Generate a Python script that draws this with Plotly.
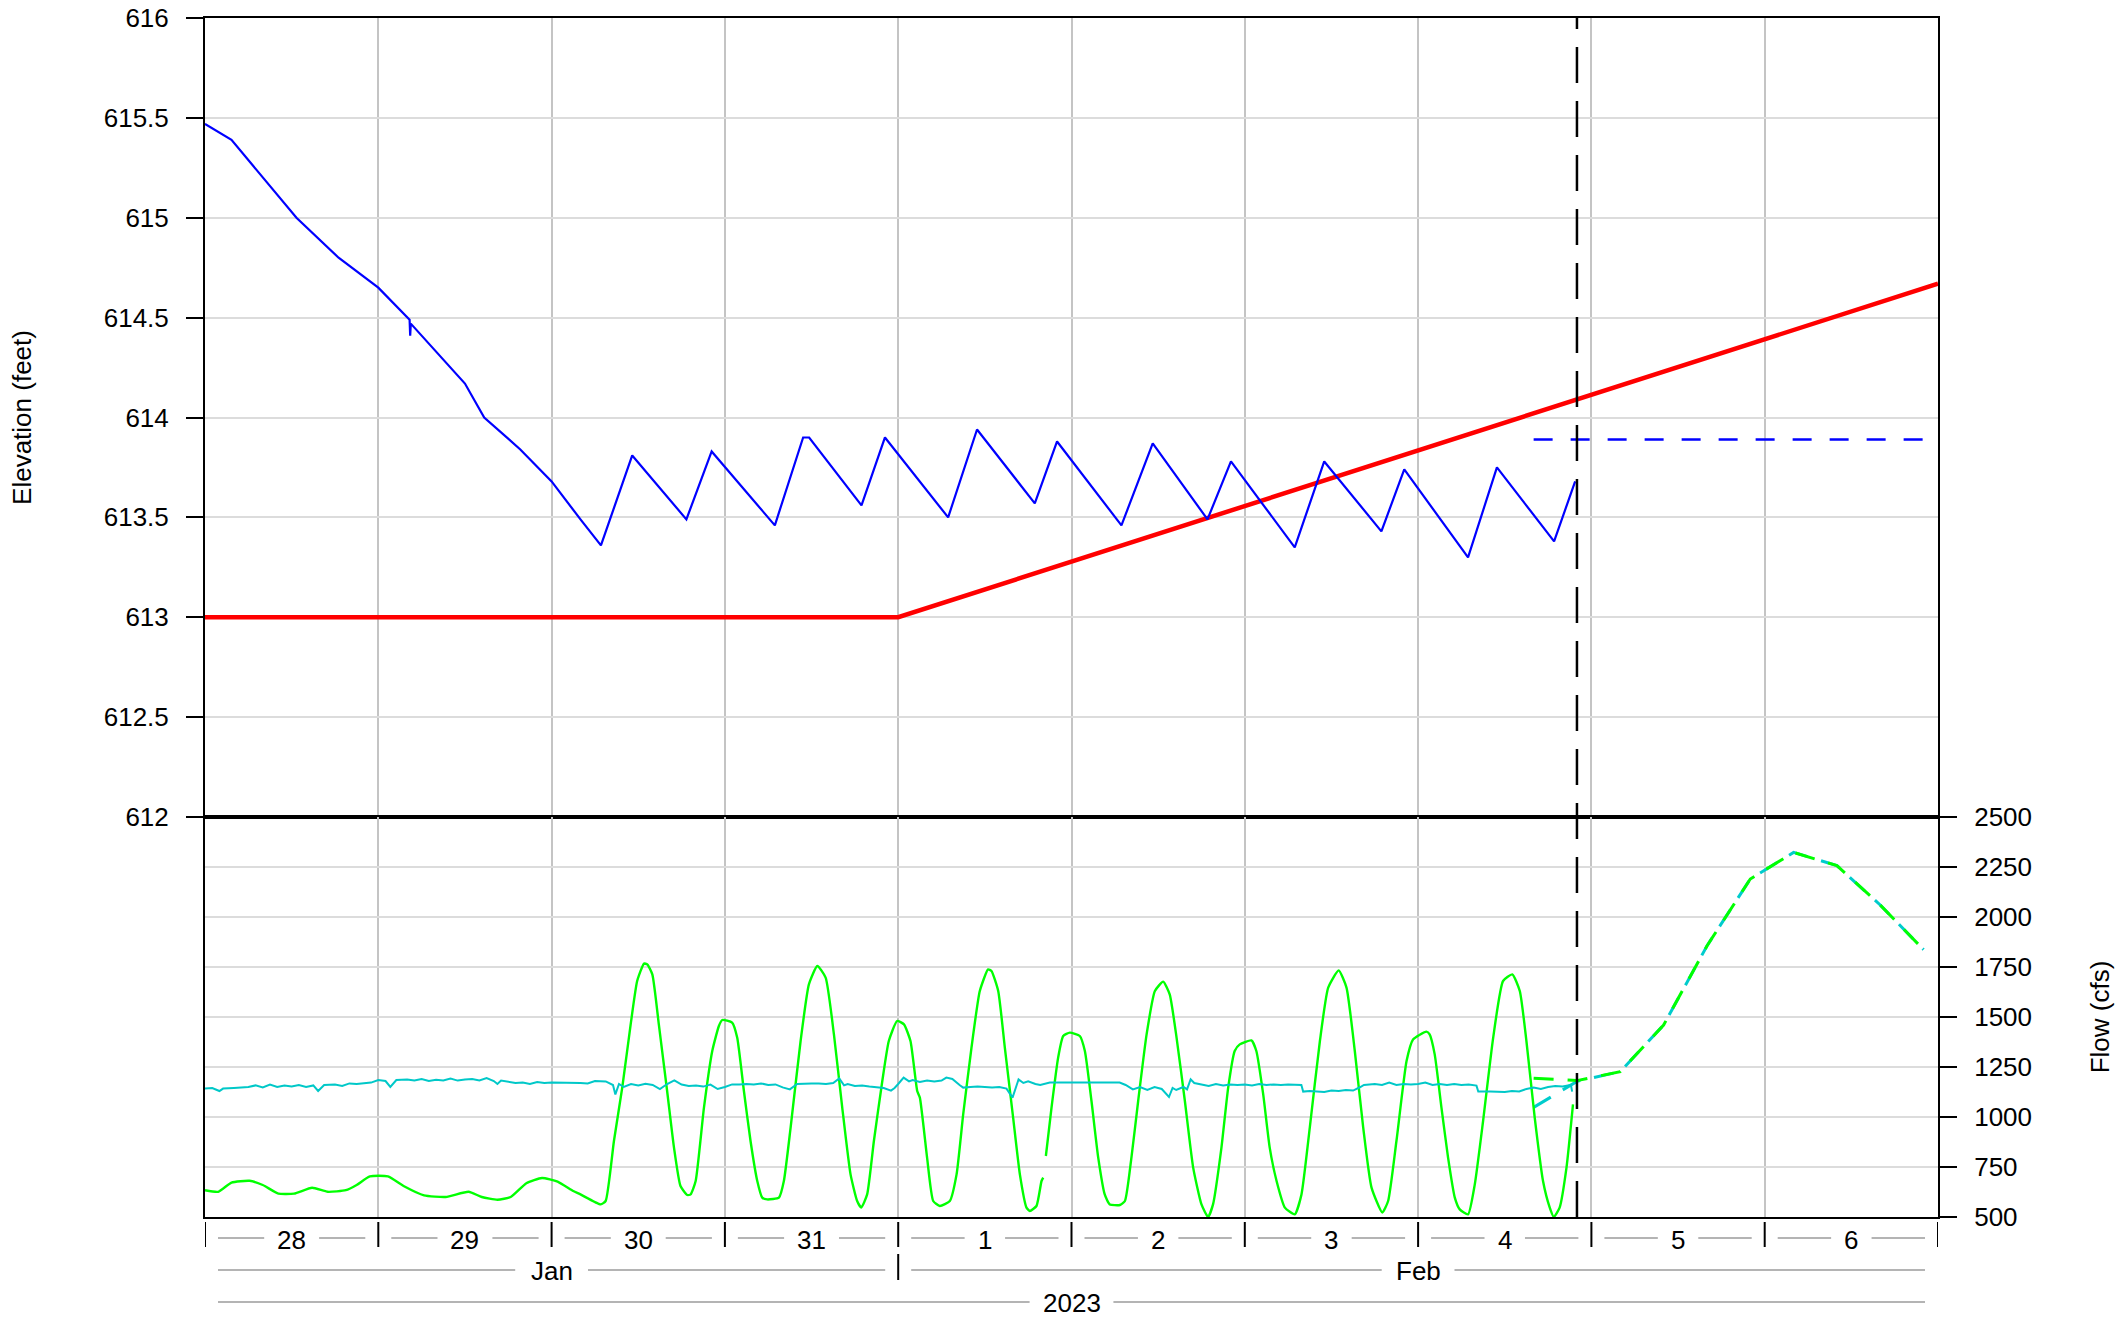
import plotly.graph_objects as go
from plotly.subplots import make_subplots

# ---------------- data ----------------
elev_time = ["2023-01-28 00:00", "2023-01-28 03:40", "2023-01-28 12:40", "2023-01-28 18:30",
             "2023-01-29 00:00", "2023-01-29 04:20", "2023-01-29 04:25", "2023-01-29 04:30",
             "2023-01-29 12:00", "2023-01-29 14:40", "2023-01-29 19:40", "2023-01-30 00:00",
             "2023-01-30 04:00", "2023-01-30 06:50", "2023-01-30 11:10", "2023-01-30 18:40",
             "2023-01-30 22:10", "2023-01-31 06:55", "2023-01-31 10:50", "2023-01-31 11:40",
             "2023-01-31 18:55", "2023-01-31 22:10", "2023-02-01 06:55", "2023-02-01 10:55",
             "2023-02-01 18:55", "2023-02-01 22:00", "2023-02-02 06:55", "2023-02-02 11:15",
             "2023-02-02 18:50", "2023-02-02 22:05", "2023-02-03 06:55", "2023-02-03 11:00",
             "2023-02-03 18:55", "2023-02-03 22:05", "2023-02-04 06:55", "2023-02-04 10:55",
             "2023-02-04 18:50", "2023-02-04 21:45"]
elev_ft = [615.47, 615.39, 615.00, 614.80,
           614.65, 614.49, 614.41, 614.47,
           614.17, 614.00, 613.84, 613.68,
           613.49, 613.36, 613.81, 613.49,
           613.83, 613.46, 613.90, 613.90,
           613.56, 613.90, 613.50, 613.94,
           613.57, 613.88, 613.46, 613.87,
           613.49, 613.78, 613.35, 613.78,
           613.43, 613.74, 613.30, 613.75,
           613.38, 613.68]

rule_time = ["2023-01-28 00:00", "2023-02-01 00:00", "2023-02-07 00:00"]
rule_ft = [613.0, 613.0, 614.67]

elev_fc_time = ["2023-02-04 16:00", "2023-02-06 22:00"]
elev_fc_ft = [613.89, 613.89]

out_time = [
    "2023-01-28 00:00", "2023-01-28 01:50", "2023-01-28 03:40", "2023-01-28 06:10",
    "2023-01-28 08:00", "2023-01-28 10:10", "2023-01-28 12:20", "2023-01-28 14:50",
    "2023-01-28 17:00", "2023-01-28 19:30", "2023-01-28 21:00", "2023-01-28 22:50",
    "2023-01-29 01:20", "2023-01-29 03:30", "2023-01-29 06:20", "2023-01-29 09:20",
    "2023-01-29 12:30", "2023-01-29 14:20", "2023-01-29 16:30", "2023-01-29 18:20",
    "2023-01-29 20:30", "2023-01-29 22:40", "2023-01-30 00:50", "2023-01-30 03:00",
    "2023-01-30 04:00", "2023-01-30 06:48", "2023-01-30 07:29", "2023-01-30 08:38",
    "2023-01-30 09:47", "2023-01-30 10:57", "2023-01-30 11:51", "2023-01-30 12:48",
    "2023-01-30 13:15", "2023-01-30 13:57", "2023-01-30 14:51", "2023-01-30 16:00",
    "2023-01-30 16:57", "2023-01-30 17:51", "2023-01-30 18:48", "2023-01-30 19:15",
    "2023-01-30 19:57", "2023-01-30 21:06", "2023-01-30 22:15", "2023-01-30 23:10",
    "2023-01-30 23:38", "2023-01-31 01:00", "2023-01-31 01:42", "2023-01-31 02:38",
    "2023-01-31 03:33", "2023-01-31 04:29", "2023-01-31 05:10", "2023-01-31 05:51",
    "2023-01-31 07:29", "2023-01-31 08:10", "2023-01-31 09:06", "2023-01-31 10:29",
    "2023-01-31 11:38", "2023-01-31 12:48", "2023-01-31 13:57", "2023-01-31 15:06",
    "2023-01-31 16:15", "2023-01-31 17:24", "2023-01-31 18:19", "2023-01-31 18:53",
    "2023-01-31 19:42", "2023-01-31 20:38", "2023-01-31 21:48", "2023-01-31 22:42",
    "2023-01-31 23:51", "2023-02-01 00:48", "2023-02-01 01:42", "2023-02-01 02:38",
    "2023-02-01 03:00", "2023-02-01 04:00", "2023-02-01 04:51", "2023-02-01 05:46",
    "2023-02-01 07:09", "2023-02-01 08:05", "2023-02-01 09:00", "2023-02-01 10:09",
    "2023-02-01 11:18", "2023-02-01 12:27", "2023-02-01 12:55", "2023-02-01 13:51",
    "2023-02-01 14:46", "2023-02-01 15:55", "2023-02-01 16:51", "2023-02-01 17:46",
    "2023-02-01 18:14", "2023-02-01 19:09", "2023-02-01 19:51", "2023-02-01 20:05",
    "2023-02-01 20:15",
    "2023-02-01 20:27", "2023-02-01 21:14", "2023-02-01 22:09", "2023-02-01 22:51",
    "2023-02-01 23:46", "2023-02-02 01:09", "2023-02-02 01:51", "2023-02-02 02:46",
    "2023-02-02 03:42", "2023-02-02 04:36", "2023-02-02 05:18", "2023-02-02 06:42",
    "2023-02-02 07:24", "2023-02-02 08:18", "2023-02-02 09:14", "2023-02-02 10:24",
    "2023-02-02 11:33", "2023-02-02 12:42", "2023-02-02 13:36", "2023-02-02 14:33",
    "2023-02-02 15:42", "2023-02-02 16:51", "2023-02-02 18:00", "2023-02-02 18:55",
    "2023-02-02 19:36", "2023-02-02 20:46", "2023-02-02 21:42", "2023-02-02 22:36",
    "2023-02-02 23:18", "2023-02-03 00:55", "2023-02-03 01:36", "2023-02-03 02:33",
    "2023-02-03 03:27", "2023-02-03 04:24", "2023-02-03 05:33", "2023-02-03 06:55",
    "2023-02-03 07:51", "2023-02-03 09:00", "2023-02-03 10:24", "2023-02-03 11:33",
    "2023-02-03 13:00", "2023-02-03 14:05", "2023-02-03 15:14", "2023-02-03 16:24",
    "2023-02-03 17:33", "2023-02-03 19:03", "2023-02-03 19:51", "2023-02-03 21:00",
    "2023-02-03 22:24", "2023-02-03 23:18", "2023-02-04 01:09", "2023-02-04 01:36",
    "2023-02-04 02:18", "2023-02-04 03:14", "2023-02-04 04:09", "2023-02-04 05:05",
    "2023-02-04 05:46", "2023-02-04 06:55", "2023-02-04 07:51", "2023-02-04 09:00",
    "2023-02-04 10:24", "2023-02-04 11:46", "2023-02-04 13:03", "2023-02-04 14:05",
    "2023-02-04 15:00", "2023-02-04 16:09", "2023-02-04 17:18", "2023-02-04 18:14",
    "2023-02-04 18:48", "2023-02-04 19:36", "2023-02-04 20:33", "2023-02-04 21:27"]
out_cfs = [
    634, 626, 672, 681,
    660, 617, 617, 646,
    626, 634, 660, 703,
    703, 655, 608, 600,
    626, 600, 586, 600,
    669, 695, 677, 630,
    613, 563, 580, 880,
    1147, 1463, 1680, 1767,
    1763, 1713, 1463, 1130,
    847, 655, 610, 613,
    680, 1047, 1330, 1455,
    1485, 1472, 1397, 1130,
    880, 680, 597, 588,
    597, 680, 947, 1380,
    1663, 1755, 1697, 1413,
    1047, 713, 580, 547,
    613, 880, 1180, 1380,
    1480, 1463, 1380, 1130,
    1097, 797, 580, 555,
    580, 713, 1013, 1347,
    1630, 1738, 1730, 1630,
    1347, 997, 713, 547,
    530, 555, 680, 697,
    None,
    805, 1047, 1297, 1405,
    1422, 1405, 1330, 1080,
    797, 613, 563, 560,
    580, 797, 1080, 1413,
    1630, 1677, 1613, 1397,
    1080, 747, 563, 500,
    563, 847, 1147, 1330,
    1363, 1383, 1330, 1113,
    847, 680, 547, 513,
    613, 947, 1380, 1647,
    1733, 1647, 1330, 947,
    647, 522, 580, 880,
    1280, 1388, 1427, 1413,
    1313, 1047, 797, 597,
    538, 513, 663, 980,
    1397, 1680, 1713, 1630,
    1380, 997, 680, 547,
    500, 547, 747, 1063]

in_time = [
    "2023-01-28 00:00", "2023-01-28 01:00", "2023-01-28 02:00", "2023-01-28 02:30",
    "2023-01-28 04:00", "2023-01-28 06:00", "2023-01-28 07:00", "2023-01-28 08:00",
    "2023-01-28 09:00", "2023-01-28 10:00", "2023-01-28 11:00", "2023-01-28 12:00",
    "2023-01-28 13:00", "2023-01-28 14:00", "2023-01-28 15:00", "2023-01-28 15:40",
    "2023-01-28 16:30", "2023-01-28 18:00", "2023-01-28 19:00", "2023-01-28 20:00",
    "2023-01-28 21:00", "2023-01-28 22:00", "2023-01-28 23:00",
    "2023-01-29 00:00", "2023-01-29 01:00", "2023-01-29 01:40", "2023-01-29 02:30",
    "2023-01-29 04:00", "2023-01-29 05:00", "2023-01-29 06:00", "2023-01-29 07:00",
    "2023-01-29 08:00", "2023-01-29 09:00", "2023-01-29 10:00", "2023-01-29 11:00",
    "2023-01-29 12:00", "2023-01-29 13:00", "2023-01-29 14:00", "2023-01-29 15:00",
    "2023-01-29 16:00", "2023-01-29 16:30", "2023-01-29 17:00", "2023-01-29 18:00",
    "2023-01-29 19:00", "2023-01-29 20:00", "2023-01-29 21:00", "2023-01-29 22:00",
    "2023-01-29 23:00",
    "2023-01-30 00:00", "2023-01-30 02:00", "2023-01-30 04:00", "2023-01-30 05:00",
    "2023-01-30 06:00", "2023-01-30 07:30", "2023-01-30 08:30", "2023-01-30 08:50",
    "2023-01-30 09:20", "2023-01-30 10:00", "2023-01-30 11:00", "2023-01-30 12:00",
    "2023-01-30 13:00", "2023-01-30 14:00", "2023-01-30 15:00", "2023-01-30 16:00",
    "2023-01-30 17:00", "2023-01-30 18:00", "2023-01-30 19:00", "2023-01-30 20:00",
    "2023-01-30 21:00", "2023-01-30 22:00", "2023-01-30 23:00",
    "2023-01-31 00:00", "2023-01-31 01:00", "2023-01-31 02:00", "2023-01-31 03:00",
    "2023-01-31 04:00", "2023-01-31 05:00", "2023-01-31 06:00", "2023-01-31 07:00",
    "2023-01-31 08:00", "2023-01-31 09:00", "2023-01-31 10:00", "2023-01-31 11:00",
    "2023-01-31 12:00", "2023-01-31 13:00", "2023-01-31 14:00", "2023-01-31 15:00",
    "2023-01-31 15:50", "2023-01-31 16:30", "2023-01-31 17:00", "2023-01-31 18:00",
    "2023-01-31 19:00", "2023-01-31 20:00", "2023-01-31 21:00", "2023-01-31 22:00",
    "2023-01-31 23:00", "2023-01-31 23:30",
    "2023-02-01 00:00", "2023-02-01 00:45", "2023-02-01 01:30", "2023-02-01 02:00",
    "2023-02-01 03:00", "2023-02-01 04:00", "2023-02-01 05:00", "2023-02-01 06:00",
    "2023-02-01 06:40", "2023-02-01 07:30", "2023-02-01 08:30", "2023-02-01 09:00",
    "2023-02-01 10:00", "2023-02-01 11:00", "2023-02-01 12:00", "2023-02-01 13:00",
    "2023-02-01 14:00", "2023-02-01 15:00", "2023-02-01 15:50", "2023-02-01 16:10",
    "2023-02-01 16:40", "2023-02-01 17:20", "2023-02-01 18:00", "2023-02-01 19:00",
    "2023-02-01 19:40", "2023-02-01 21:00", "2023-02-01 23:00",
    "2023-02-02 01:00", "2023-02-02 03:00", "2023-02-02 05:00", "2023-02-02 06:40",
    "2023-02-02 07:30", "2023-02-02 08:30", "2023-02-02 09:30", "2023-02-02 10:30",
    "2023-02-02 11:30", "2023-02-02 12:30", "2023-02-02 13:30", "2023-02-02 14:00",
    "2023-02-02 14:30", "2023-02-02 15:30", "2023-02-02 16:00", "2023-02-02 16:30",
    "2023-02-02 17:00", "2023-02-02 18:00", "2023-02-02 19:00", "2023-02-02 20:00",
    "2023-02-02 21:00", "2023-02-02 22:00", "2023-02-02 23:00",
    "2023-02-03 00:00", "2023-02-03 01:00", "2023-02-03 02:00", "2023-02-03 03:00",
    "2023-02-03 04:00", "2023-02-03 05:00", "2023-02-03 06:00", "2023-02-03 07:00",
    "2023-02-03 07:50", "2023-02-03 08:05", "2023-02-03 09:00", "2023-02-03 10:00",
    "2023-02-03 11:00", "2023-02-03 12:00", "2023-02-03 13:00", "2023-02-03 14:00",
    "2023-02-03 15:00", "2023-02-03 16:00", "2023-02-03 16:30", "2023-02-03 18:00",
    "2023-02-03 19:00", "2023-02-03 20:00", "2023-02-03 21:00", "2023-02-03 22:00",
    "2023-02-03 23:00",
    "2023-02-04 00:00", "2023-02-04 01:00", "2023-02-04 02:00", "2023-02-04 03:00",
    "2023-02-04 04:00", "2023-02-04 05:00", "2023-02-04 06:00", "2023-02-04 07:00",
    "2023-02-04 08:05", "2023-02-04 08:20", "2023-02-04 10:00", "2023-02-04 11:00",
    "2023-02-04 12:00", "2023-02-04 13:00", "2023-02-04 14:00", "2023-02-04 15:00",
    "2023-02-04 16:00", "2023-02-04 17:00", "2023-02-04 18:00", "2023-02-04 19:00",
    "2023-02-04 20:00", "2023-02-04 21:10", "2023-02-04 21:20"]
in_cfs = [
    1143, 1145, 1130, 1142,
    1145, 1150, 1158, 1148,
    1162, 1150, 1158, 1152,
    1160, 1150, 1158, 1130,
    1160, 1162, 1155, 1168,
    1165, 1170, 1172,
    1185, 1180, 1150, 1185,
    1188, 1182, 1190, 1180,
    1186, 1183, 1192, 1182,
    1188, 1190, 1183, 1195,
    1180, 1165, 1182, 1175,
    1170, 1172, 1165, 1175,
    1170,
    1172, 1172, 1170, 1168,
    1180, 1178, 1160, 1113,
    1165, 1150, 1165, 1158,
    1166, 1160, 1140, 1165,
    1183, 1162, 1155, 1158,
    1152, 1162, 1140,
    1150, 1163, 1162, 1165,
    1163, 1168, 1160, 1163,
    1148, 1138, 1165, 1167,
    1168, 1167, 1165, 1170,
    1193, 1158, 1165, 1155,
    1158, 1152, 1150, 1145,
    1132, 1145,
    1165, 1197, 1178, 1185,
    1175, 1183, 1178, 1182,
    1197, 1190, 1160, 1147,
    1150, 1152, 1150, 1148,
    1150, 1142, 1097, 1138,
    1188, 1170, 1178, 1165,
    1160, 1172, 1172,
    1172, 1172, 1172, 1172,
    1160, 1138, 1150, 1135,
    1150, 1140, 1100, 1145,
    1135, 1150, 1138, 1188,
    1170, 1162, 1155, 1165,
    1158, 1162, 1160,
    1162, 1158, 1165, 1160,
    1163, 1160, 1162, 1160,
    1160, 1127, 1130, 1128,
    1125, 1132, 1130, 1135,
    1132, 1150, 1160, 1165,
    1160, 1172, 1160, 1165,
    1162,
    1165, 1172, 1160, 1165,
    1160, 1165, 1160, 1162,
    1157, 1127, 1127, 1125,
    1125, 1130, 1128, 1140,
    1147, 1140, 1150, 1155,
    1152, 1160, 1127]

fc_time = ["2023-02-04 16:00", "2023-02-04 22:00", "2023-02-05 04:00", "2023-02-05 10:00",
           "2023-02-05 16:00", "2023-02-05 22:00", "2023-02-06 04:00", "2023-02-06 10:00",
           "2023-02-06 16:00", "2023-02-06 22:00"]
out_fc_cfs = [1194, 1182, 1227, 1460, 1855, 2190, 2323, 2257, 2060, 1837]
in_fc_cfs = [1048, 1178, 1227, 1460, 1855, 2190, 2323, 2257, 2060, 1837]

now_time = "2023-02-04 22:00"

day_starts = ["2023-01-28", "2023-01-29", "2023-01-30", "2023-01-31", "2023-02-01",
              "2023-02-02", "2023-02-03", "2023-02-04", "2023-02-05", "2023-02-06", "2023-02-07"]
day_labels = ["28", "29", "30", "31", "1", "2", "3", "4", "5", "6"]
day_centers = ["2023-01-28 12:00", "2023-01-29 12:00", "2023-01-30 12:00", "2023-01-31 12:00",
               "2023-02-01 12:00", "2023-02-02 12:00", "2023-02-03 12:00", "2023-02-04 12:00",
               "2023-02-05 12:00", "2023-02-06 12:00"]
month_labels = ["Jan", "Feb"]
month_centers = ["2023-01-30 00:00", "2023-02-04 00:00"]
month_ndays = [4, 6]
month_break = "2023-02-01"
year_label = "2023"
year_center = "2023-02-02 00:00"
year_ndays = 10

x_range = ["2023-01-28", "2023-02-07"]
elev_range = [612, 616]
flow_range = [500, 2500]

# ---------------- layout geometry ----------------
W, H = 2128, 1319
ML, MT = 205, 18
PW, PH = 1733, 1199
MR, MB = W - ML - PW, H - MT - PH
LOWER_PX = 400
PX_PER_DAY = PW / 10.0
FONT = "Liberation Sans, Arial, Helvetica, sans-serif"
FS = 26
DIGIT_W = 0.556 * FS
PLOT_BOTTOM = MT + PH   # pixel row of the plot bottom


def py(px):
    """pixel row -> paper y"""
    return (PLOT_BOTTOM - px) / PH


fig = make_subplots(rows=2, cols=1, shared_xaxes=True, vertical_spacing=0,
                    row_heights=[(PH - LOWER_PX) / PH, LOWER_PX / PH])

# upper panel
fig.add_trace(go.Scatter(x=rule_time, y=rule_ft, mode="lines",
                         line=dict(color="#ff0000", width=4.5)), row=1, col=1)
fig.add_trace(go.Scatter(x=elev_time, y=elev_ft, mode="lines",
                         line=dict(color="#0000ff", width=2.2)), row=1, col=1)
fig.add_trace(go.Scatter(x=elev_fc_time, y=elev_fc_ft, mode="lines",
                         line=dict(color="#0000ff", width=2.5, dash="19px,18px")), row=1, col=1)

# lower panel
fig.add_trace(go.Scatter(x=fc_time, y=in_fc_cfs, mode="lines",
                         line=dict(color="#00cccc", width=3, dash="20px,14px")), row=2, col=1)
fig.add_trace(go.Scatter(x=fc_time, y=out_fc_cfs, mode="lines",
                         line=dict(color="#00ff00", width=3, dash="20px,14px")), row=2, col=1)
fig.add_trace(go.Scatter(x=out_time, y=out_cfs, mode="lines", connectgaps=False,
                         line=dict(color="#00ff00", width=2.4, shape="spline", smoothing=0.5)),
              row=2, col=1)
fig.add_trace(go.Scatter(x=in_time, y=in_cfs, mode="lines",
                         line=dict(color="#00c8c8", width=2)), row=2, col=1)

xcommon = dict(type="date", range=x_range, showgrid=True, gridcolor="#c4c4c4", gridwidth=2,
               tick0="2023-01-28", dtick=86400000, showticklabels=False, ticks="",
               showline=True, linecolor="black", linewidth=2, mirror=True, zeroline=False)
fig.update_xaxes(**xcommon)

fig.update_yaxes(row=1, col=1, range=elev_range, dtick=0.5, tick0=612, side="left",
                 ticks="outside", ticklen=17, tickwidth=2, tickcolor="black",
                 ticklabelstandoff=12, ticklabeloverflow="allow",
                 showline=True, linecolor="black", linewidth=2, mirror=True,
                 showgrid=True, gridcolor="#dcdcdc", gridwidth=2, zeroline=False,
                 tickfont=dict(family=FONT, size=FS, color="black"),
                 title=dict(text="Elevation (feet)", standoff=65,
                            font=dict(family=FONT, size=FS, color="black")))
fig.update_yaxes(row=2, col=1, range=flow_range, dtick=250, tick0=500, side="right",
                 ticks="outside", ticklen=17, tickwidth=2, tickcolor="black",
                 ticklabelstandoff=12, ticklabeloverflow="allow",
                 showline=True, linecolor="black", linewidth=2, mirror=True,
                 showgrid=True, gridcolor="#dcdcdc", gridwidth=2, zeroline=False,
                 tickfont=dict(family=FONT, size=FS, color="black"),
                 title=dict(text="Flow (cfs)", standoff=60,
                            font=dict(family=FONT, size=FS, color="black")))

shapes = []
annotations = []
GRAY = "#b4b4b4"

# "now" line
shapes.append(dict(type="line", xref="x2", yref="paper", x0=now_time, x1=now_time, y0=0, y1=1,
                   line=dict(color="black", width=2.5, dash="36px,18px"), layer="above"))

# row 1: day ticks and labels
for d in day_starts:
    shapes.append(dict(type="line", xref="x2", yref="paper", x0=d, x1=d,
                       y0=py(1222), y1=py(1247), line=dict(color="black", width=2)))


def labelled_rule(center, text, ndays, ypx, ytext):
    half = ndays * PX_PER_DAY / 2.0
    if text.isdigit():
        gap = len(text) * DIGIT_W / 2.0 + 13
    else:
        gap = 0.6 * FS * len(text) / 2.0 + 13
    for a, b in ((-(half - 13), -gap), (gap, half - 13)):
        shapes.append(dict(type="line", xref="x2", yref="paper", xsizemode="pixel",
                           xanchor=center, x0=a, x1=b, y0=py(ypx), y1=py(ypx),
                           line=dict(color=GRAY, width=2)))
    annotations.append(dict(x=center, y=py(ytext), xref="x2", yref="paper", text=text,
                            showarrow=False, xanchor="center", yanchor="middle",
                            font=dict(family=FONT, size=FS, color="black")))


for c, t in zip(day_centers, day_labels):
    labelled_rule(c, t, 1, 1238, 1240)

shapes.append(dict(type="line", xref="x2", yref="paper", x0=month_break, x1=month_break,
                   y0=py(1254), y1=py(1280), line=dict(color="black", width=2)))
for c, t, n in zip(month_centers, month_labels, month_ndays):
    labelled_rule(c, t, n, 1270, 1271)

labelled_rule(year_center, year_label, year_ndays, 1302, 1303)

fig.update_layout(width=W, height=H, margin=dict(l=ML, r=MR, t=MT, b=MB, autoexpand=False),
                  template="none", showlegend=False, paper_bgcolor="white",
                  plot_bgcolor="white", shapes=shapes, annotations=annotations,
                  font=dict(family=FONT, size=FS, color="black"))

# the figure fills the window exactly, so drop the default page margin
fig.write_html("out.html", config={"displayModeBar": False},
               post_script="document.body.style.margin='0px';document.body.style.overflow='hidden';")
